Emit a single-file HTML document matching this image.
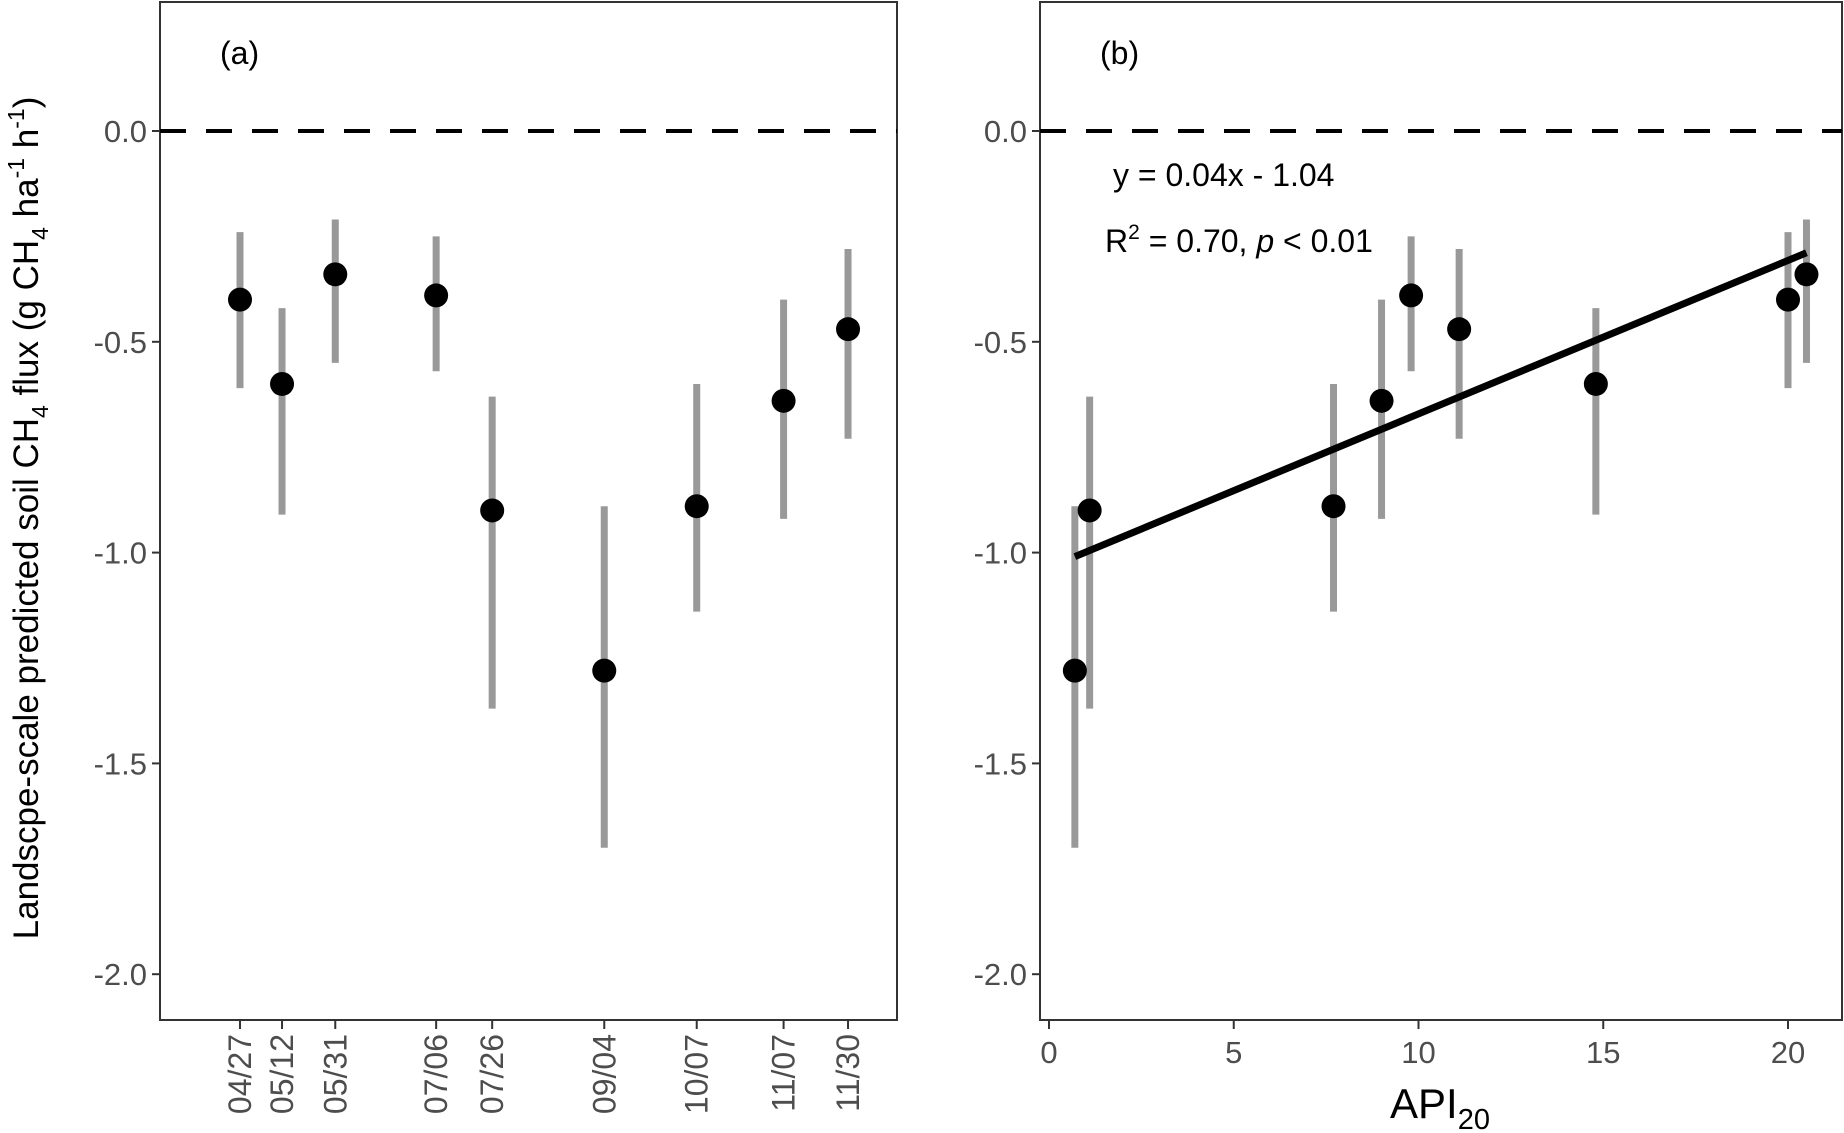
<!DOCTYPE html>
<html><head><meta charset="utf-8"><style>
html,body{margin:0;padding:0;background:#fff}
svg{display:block;font-family:"Liberation Sans",Arial,sans-serif}
</style></head><body>
<svg id="chart" width="1844" height="1133" xmlns="http://www.w3.org/2000/svg"></svg>
<script>
const dateLabels=["04/27","05/12","05/31","07/06","07/26","09/04","10/07","11/07","11/30"];
const dayOfYear=[117,132,151,187,207,247,280,311,334];
const fluxMean=[-0.40,-0.60,-0.34,-0.39,-0.90,-1.28,-0.89,-0.64,-0.47];
const fluxLow=[-0.61,-0.91,-0.55,-0.57,-1.37,-1.70,-1.14,-0.92,-0.73];
const fluxHigh=[-0.24,-0.42,-0.21,-0.25,-0.63,-0.89,-0.60,-0.40,-0.28];
const api20=[0.7,1.1,7.7,9.0,9.8,11.1,14.8,20.0,20.5];
const apiMean=[-1.28,-0.90,-0.89,-0.64,-0.39,-0.47,-0.60,-0.40,-0.34];
const apiLow=[-1.70,-1.37,-1.14,-0.92,-0.57,-0.73,-0.91,-0.61,-0.55];
const apiHigh=[-0.89,-0.63,-0.60,-0.40,-0.25,-0.28,-0.42,-0.24,-0.21];
const yTicks=[0,-0.5,-1.0,-1.5,-2.0];
const yTickLabels=["0.0","-0.5","-1.0","-1.5","-2.0"];
const xTicksB=[0,5,10,15,20];
const fitSlope=0.0364, fitIntercept=-1.035, fitRange=[0.7,20.5];

const svg=document.getElementById('chart');
const NS='http://www.w3.org/2000/svg';
function el(tag,attrs,parent){const e=document.createElementNS(NS,tag);for(const k in attrs)e.setAttribute(k,attrs[k]);(parent||svg).appendChild(e);return e;}
const Y=v=>131+(-v)*421.6;
const XA=d=>240+(d-117)*2.802;
const XB=v=>1049+v*36.95;
const TOP=2,BOT=1020;

function panel(L,R,name){
  const g=el('g',{});
  
  
  el('rect',{x:L,y:TOP,width:R-L,height:BOT-TOP,fill:'none',stroke:'#333',"stroke-width":2},g);
  const dl=el('line',{x1:L,x2:R,y1:Y(0),y2:Y(0),stroke:'#000',"stroke-width":4,"stroke-dasharray":"26,20"},g);
  
  
  yTicks.forEach((t,i)=>{
    el('line',{x1:L-8,x2:L,y1:Y(t),y2:Y(t),stroke:'#333',"stroke-width":2},g);
    const tx=el('text',{x:L-13,y:Y(t)+11,"text-anchor":"end","font-size":31,fill:'#4d4d4d'},g);
    tx.textContent=yTickLabels[i];
    
    
  });
  return g;
}
const ga=panel(160,897,'panel-a');
const gb=panel(1040,1842,'panel-b');

function pts(g,xs,m,lo,hi,X){
  xs.forEach((x,i)=>{
    const b=el('line',{x1:X(x),x2:X(x),y1:Y(lo[i]),y2:Y(hi[i]),stroke:'#999',"stroke-width":7},g);
    
    
  });
  xs.forEach((x,i)=>{
    const c=el('circle',{cx:X(x),cy:Y(m[i]),r:12,fill:'#000'},g);
    
    
  });
}
pts(ga,dayOfYear,fluxMean,fluxLow,fluxHigh,XA);
pts(gb,api20,apiMean,apiLow,apiHigh,XB);

const fl=el('line',{x1:XB(fitRange[0]),y1:Y(fitIntercept+fitSlope*fitRange[0]),x2:XB(fitRange[1]),y2:Y(fitIntercept+fitSlope*fitRange[1]),stroke:'#000',"stroke-width":7},gb);



dateLabels.forEach((d,i)=>{
  const x=XA(dayOfYear[i]);
  el('line',{x1:x,x2:x,y1:BOT,y2:BOT+9,stroke:'#333',"stroke-width":2},ga);
  const t=el('text',{x:0,y:0,"text-anchor":"end","font-size":32,fill:'#4d4d4d',transform:`translate(${x+11},${BOT+14}) rotate(-90)`},ga);
  t.textContent=d;
  
  
});
xTicksB.forEach(v=>{
  const x=XB(v);
  el('line',{x1:x,x2:x,y1:BOT,y2:BOT+9,stroke:'#333',"stroke-width":2},gb);
  const t=el('text',{x:x,y:BOT+43,"text-anchor":"middle","font-size":31,fill:'#4d4d4d'},gb);
  t.textContent=v;
  
  
});
</script>
<svg width="1844" height="1133" style="position:absolute;left:0;top:0;font-family:'Liberation Sans',Arial,sans-serif" xmlns="http://www.w3.org/2000/svg">
<text x="220" y="64" font-size="32">(a)</text>
<text x="1100" y="64" font-size="32">(b)</text>
<text x="1113" y="186" font-size="32">y = 0.04x - 1.04</text>
<text x="1105" y="252" font-size="32">R<tspan dy="-13" font-size="21">2</tspan><tspan dy="13"> = 0.70, </tspan><tspan font-style="italic">p</tspan> &lt; 0.01</text>
<text transform="translate(38,518) rotate(-90)" text-anchor="middle" font-size="35">Landscpe-scale predicted soil CH<tspan dy="10" font-size="23">4</tspan><tspan dy="-10"> flux (g CH</tspan><tspan dy="10" font-size="23">4</tspan><tspan dy="-10"> ha</tspan><tspan dy="-14" font-size="23">-1</tspan><tspan dy="14"> h</tspan><tspan dy="-14" font-size="23">-1</tspan><tspan dy="14">)</tspan></text>
<text x="1440" y="1118" text-anchor="middle" font-size="42">API<tspan dy="11" font-size="29">20</tspan></text>
</svg>
</body></html>
